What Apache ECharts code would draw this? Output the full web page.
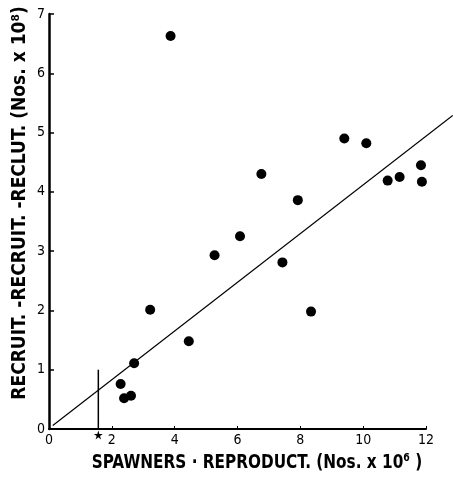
<!DOCTYPE html>
<html>
<head>
<meta charset="utf-8">
<script src="https://cdn.jsdelivr.net/npm/echarts@6/dist/echarts.min.js"></script>
<style>
html,body{margin:0;padding:0;background:#fff;}
#c{width:453px;height:477px;}
</style>
</head>
<body>
<div id="c"></div>
<script>
// Data
var spawners = [9.40, 10.10, 6.76, 11.84, 10.78, 11.16, 11.87, 7.92, 6.08, 3.87, 5.27, 3.22, 4.45, 2.71, 2.28, 2.39, 2.61, 7.43, 8.34];
var recruits = [4.90, 4.82, 4.30, 4.45, 4.19, 4.25, 4.17, 3.86, 3.25, 6.63, 2.93, 2.01, 1.48, 1.11, 0.76, 0.52, 0.56, 2.81, 1.98];
var fitX = [0.12, 12.85];
var fitY = [0.06, 5.29];
var markX = [1.57, 1.57];
var markY = [0, 1];
var starPoint = [1.57, -0.1];
var xTicks = [0, 2, 4, 6, 8, 10, 12];
var yTicks = [0, 1, 2, 3, 4, 5, 6, 7];
var xTitle = 'SPAWNERS · REPRODUCT. (Nos. x 10⁶ )';
var yTitle = 'RECRUIT. -RECRUIT. -RECLUT. (Nos. x 10⁸)';

var pts = spawners.map(function (x, i) { return [x, recruits[i]]; });
var fit = fitX.map(function (x, i) { return [x, fitY[i]]; });
var mark = markX.map(function (x, i) { return [x, markY[i]]; });

var FONT = '"Liberation Sans Narrow", "DejaVu Sans Condensed", "Liberation Sans", sans-serif';
var xMax = xTicks[xTicks.length - 1];
var gridLeft = 49, gridRight = 27, W = 453;
// second (hidden) grid extends to the right edge so the fitted line can run past 12
var xMaxWide = xMax * (W - gridLeft) / (W - gridLeft - gridRight);

var chart = echarts.init(document.getElementById('c'), null, {renderer: 'canvas'});
chart.setOption({
  animation: false,
  backgroundColor: '#fff',
  grid: [
    {left: gridLeft, right: gridRight, top: 14, bottom: 48, containLabel: false},
    {left: gridLeft, right: 0, top: 14, bottom: 48, containLabel: false}
  ],
  xAxis: [{
    type: 'value', gridIndex: 0, min: xTicks[0], max: xMax, interval: 2,
    axisLine: {lineStyle: {color: '#000', width: 2}},
    axisTick: {inside: true, length: 3, lineStyle: {color: '#000'}},
    splitLine: {show: false},
    axisLabel: {color: '#000', fontSize: 14, fontFamily: FONT, margin: 4}
  }, {
    type: 'value', gridIndex: 1, min: 0, max: xMaxWide, show: false
  }],
  yAxis: [{
    type: 'value', gridIndex: 0, min: yTicks[0], max: yTicks[yTicks.length - 1], interval: 1,
    axisLine: {lineStyle: {color: '#000', width: 2.5}},
    axisTick: {inside: true, length: 5, lineStyle: {color: '#000', width: 1.5}},
    splitLine: {show: false},
    axisLabel: {color: '#000', fontSize: 14, fontFamily: FONT, margin: 4}
  }, {
    type: 'value', gridIndex: 1, min: yTicks[0], max: yTicks[yTicks.length - 1], show: false
  }],
  graphic: [
    {type: 'text', x: 20, y: 203, rotation: Math.PI / 2,
     style: {text: yTitle, fill: '#000', font: 'bold 19px ' + FONT, align: 'center', verticalAlign: 'middle'}},
    {type: 'text', x: 257, y: 463, scaleX: 0.85,
     style: {text: xTitle, fill: '#000', font: 'bold 20px ' + FONT, align: 'center', verticalAlign: 'middle'}}
  ],
  series: [
    {type: 'line', xAxisIndex: 1, yAxisIndex: 1, data: fit, clip: false, symbol: 'none',
     lineStyle: {color: '#000', width: 1.2}},
    {type: 'line', data: mark, clip: false, symbol: 'none',
     lineStyle: {color: '#000', width: 1.5}},
    {type: 'scatter', data: pts, symbol: 'circle', symbolSize: 10,
     itemStyle: {color: '#000', opacity: 1}},
    {type: 'scatter', data: [starPoint], clip: false,
     symbol: 'path://M50,0 L61,35 L98,35 L68,57 L79,91 L50,70 L21,91 L32,57 L2,35 L39,35 Z',
     symbolSize: 9, itemStyle: {color: '#000', opacity: 1}}
  ]
});
</script>
</body>
</html>
